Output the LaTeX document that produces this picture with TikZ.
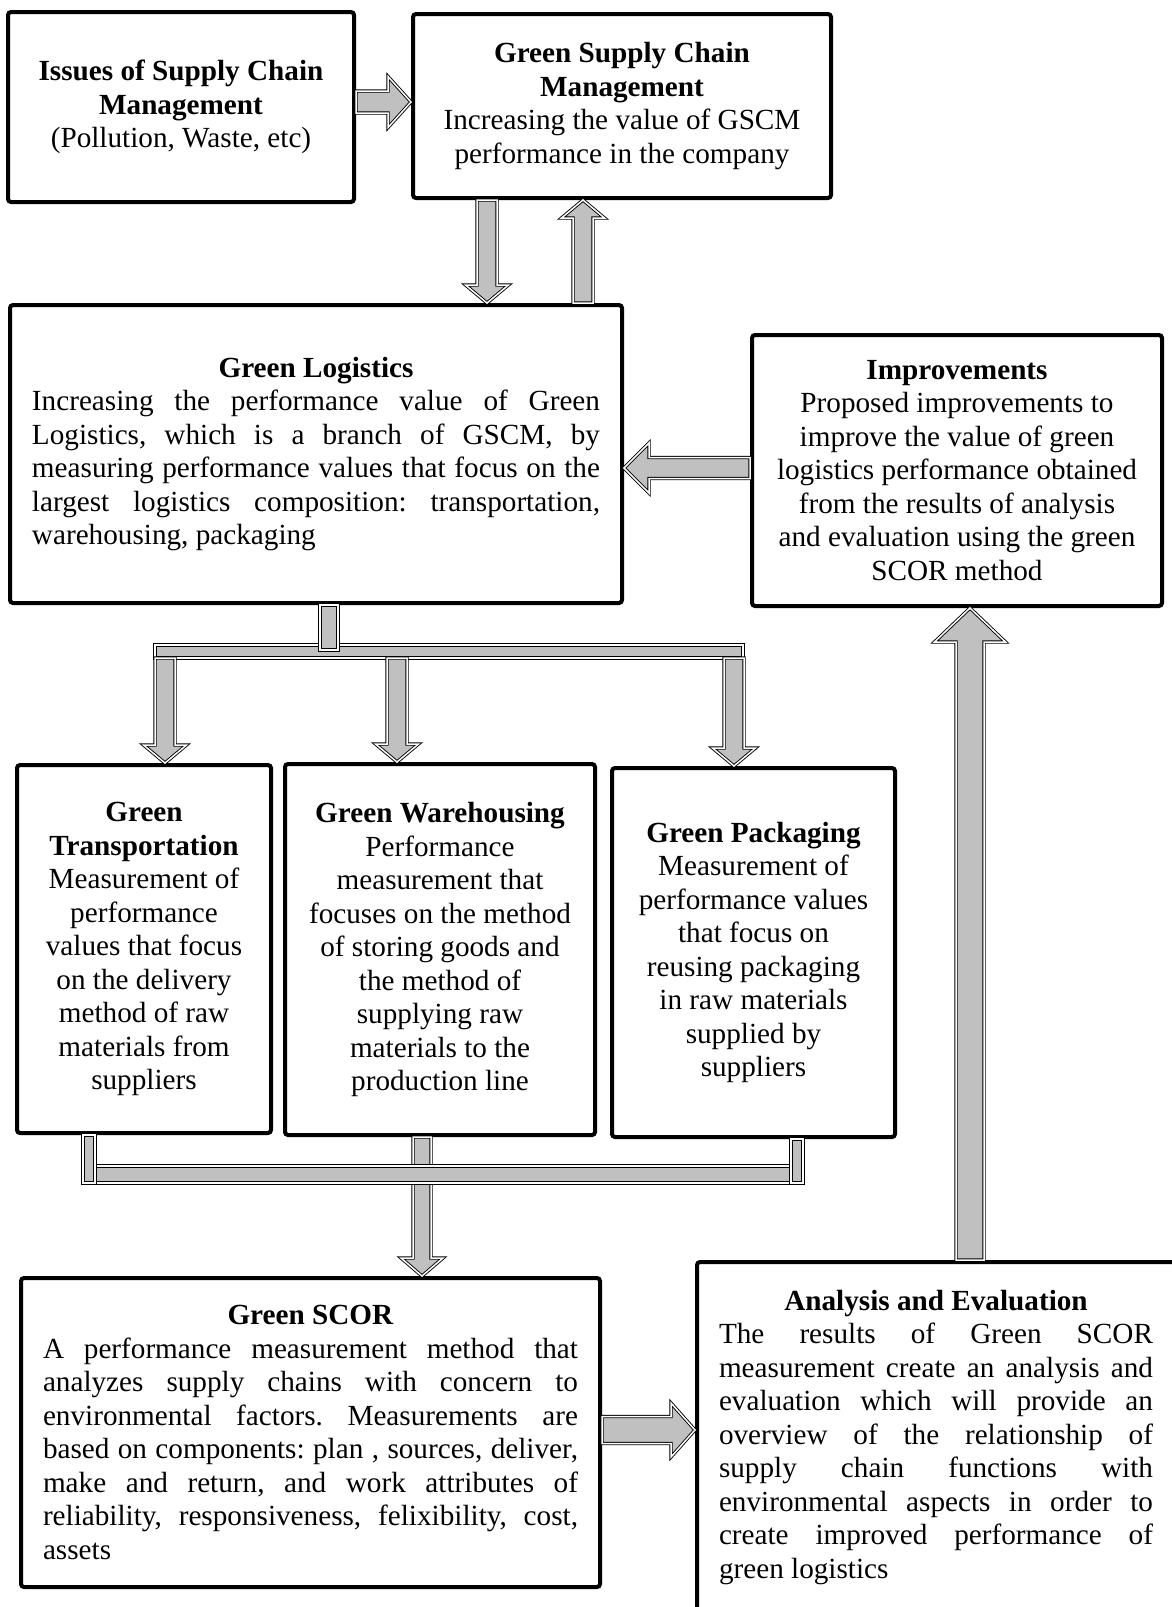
\documentclass[tikz,border=0pt]{standalone}
\usepackage{fontspec}
\setmainfont{Liberation Serif}
\usetikzlibrary{calc}

% block arrow: start, end, half shaft, half head, head length
\newcommand{\blockarrow}[5]{%
  \coordinate (ba-s) at #1;
  \coordinate (ba-e) at #2;
  \coordinate (ba-m) at ($(ba-e)!#5!(ba-s)$);
  \draw[barrow] ($(ba-s)!#3!90:(ba-e)$) -- ($(ba-m)!#3!90:(ba-e)$)
    -- ($(ba-m)!#4!90:(ba-e)$) -- (ba-e) -- ($(ba-m)!#4!-90:(ba-e)$)
    -- ($(ba-m)!#3!-90:(ba-e)$) -- ($(ba-s)!#3!-90:(ba-e)$) -- cycle;}

\definecolor{arrowgray}{RGB}{192,192,192}

\begin{document}
\frenchspacing
\begin{tikzpicture}[x=0.5pt, y=-0.5pt, font=\fontsize{14.6pt}{16.75pt}\selectfont]
        \tikzset{box/.style={draw, line width=2pt, rounded corners=1.5pt, inner sep=0pt, align=center},
          barrow/.style={draw=black, line width=0.45pt, double=white, double distance=0.75pt, fill=arrowgray, line join=miter}}
        \useasboundingbox (0,0) rectangle (1172,1607);
        \clip (0,0) rectangle (1172,1607);
        \node[box, minimum width=173pt, minimum height=95pt] (issue) at (181,107) {\textbf{Issues of Supply Chain}\\\textbf{Management}\\(Pollution, Waste, etc)};
        \node[box, minimum width=209pt, minimum height=92pt] (gscm) at (622,106) {\textbf{Green Supply Chain}\\\textbf{Management}\\Increasing the value of GSCM\\performance in the company};
        \node[box, minimum width=306pt, minimum height=149pt, text width=284pt, align=justify] (gl) at (316,454) {{\centering\textbf{Green Logistics}\par}Increasing the performance value of Green\linebreak{} Logistics, which is a branch of GSCM, by\linebreak{} measuring performance values that focus on the\linebreak{} largest logistics composition: transportation,\linebreak{} warehousing, packaging};
        \node[box, minimum width=205pt, minimum height=135.5pt] (impr) at (957,470.5) {\textbf{Improvements}\\Proposed improvements to\\improve the value of green\\logistics performance obtained\\from the results of analysis\\and evaluation using the green\\SCOR method};
        \node[box, minimum width=127pt, minimum height=184pt] (gt) at (144,949) {\textbf{Green}\\\textbf{Transportation}\\Measurement of\\performance\\values that focus\\on the delivery\\method of raw\\materials from\\suppliers};
        \node[box, minimum width=155pt, minimum height=185.5pt] (gw) at (440,949.5) {\textbf{Green Warehousing}\\Performance\\measurement that\\focuses on the method\\of storing goods and\\the method of\\supplying raw\\materials to the\\production line};
        \node[box, minimum width=141.5pt, minimum height=184.5pt] (gp) at (753.5,952.5) {\textbf{Green Packaging}\\Measurement of\\performance values\\that focus on\\reusing packaging\\in raw materials\\supplied by\\suppliers};
        \node[box, minimum width=289.5pt, minimum height=154.5pt, text width=267.5pt, align=justify] (gs) at (310.5,1432.5) {{\centering\textbf{Green SCOR}\par}A performance measurement method that\linebreak{} analyzes supply chains with concern to\linebreak{} environmental factors. Measurements are\linebreak{} based on components: plan , sources, deliver,\linebreak{} make and return, and work attributes of\linebreak{} reliability, responsiveness, felixibility, cost,\linebreak{} assets};
        \node[box, minimum width=239pt, minimum height=175.5pt, text width=217pt, align=justify] (ae) at (936,1437.5) {{\centering\textbf{Analysis and Evaluation}\par}The results of Green SCOR\linebreak{} measurement create an analysis and\linebreak{} evaluation which will provide an\linebreak{} overview of the relationship of\linebreak{} supply chain functions with\linebreak{} environmental aspects in order to\linebreak{} create improved performance of\linebreak{} green logistics};
        % arrow positions
        \coordinate (ax1) at (0,102);
        \coordinate (ax2) at (487,0);
        \coordinate (ax3) at (583,0);
        \coordinate (ax4) at (0,468);
        \coordinate (ax5) at (970,0);
        \coordinate (ax10) at (0,1430);
        \blockarrow{(issue.east |- ax1)}{(gscm.west |- ax1)}{5.5pt}{12.75pt}{11.5pt}
        \blockarrow{(gscm.south -| ax2)}{(gl.north -| ax2)}{5pt}{10.75pt}{9pt}
        \blockarrow{(gl.north -| ax3)}{(gscm.south -| ax3)}{5pt}{10.75pt}{9pt}
        \blockarrow{(impr.west |- ax4)}{(gl.east |- ax4)}{5.25pt}{12.5pt}{12.5pt}
        \blockarrow{(ae.north -| ax5)}{(impr.south -| ax5)}{7pt}{17.75pt}{17pt}
        \blockarrow{(gs.east |- ax10)}{(ae.west |- ax10)}{6.75pt}{13.5pt}{12pt}
        % split below green logistics
        \coordinate (trunk) at (329,650);
        \coordinate (barL) at (155,645);
        \coordinate (barR) at (743,658);
        \coordinate (tA) at (165,658);
        \coordinate (tB) at (397,658);
        \coordinate (tC) at (734,658);
        \draw[barrow] (barL) rectangle (barR);
        \draw[barrow] ($(gl.south -| trunk)+(-4.5pt,0)$) rectangle ($(trunk)+(4.5pt,0)$);
        \blockarrow{(tA)}{(tA |- gt.north)}{5pt}{10.75pt}{9pt}
        \blockarrow{(tB)}{(tB |- gw.north)}{5pt}{10.75pt}{9pt}
        \blockarrow{(tC)}{(tC |- gp.north)}{5pt}{10.75pt}{9pt}
        % join above green scor
        \coordinate (bA) at (89,1183);
        \coordinate (bB) at (422,0);
        \coordinate (bC) at (797,1183);
        \coordinate (bbarL) at (89,1166);
        \blockarrow{(gw.south -| bB)}{(gs.north -| bB)}{4.5pt}{10.5pt}{9pt}
        \draw[barrow] (bbarL) rectangle (bC);
        \draw[barrow] ($(gt.south -| bA)+(-3pt,0)$) rectangle ($(bA)+(3pt,0)$);
        \draw[barrow] ($(gp.south -| bC)+(-3pt,0)$) rectangle ($(bC)+(3pt,0)$);
    \end{tikzpicture}
\end{document}
